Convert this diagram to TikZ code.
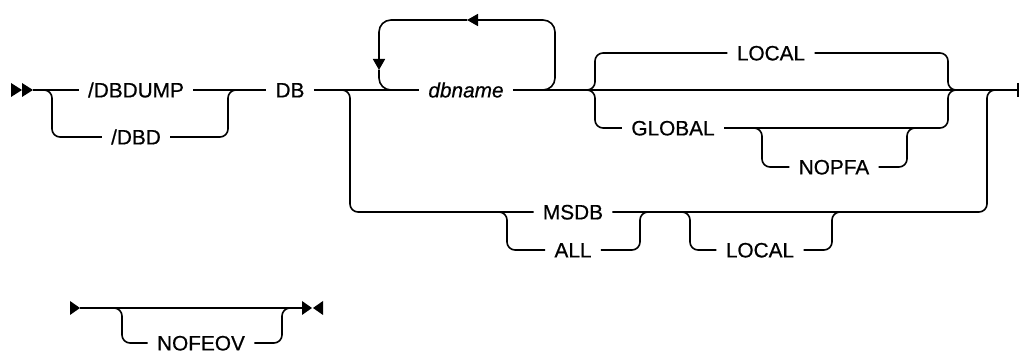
\documentclass[tikz,border=0pt]{standalone}
\usepackage{fontspec}
\setmainfont{Liberation Sans}
\newfontfamily\railfont{Liberation Sans}[FakeBold=0.6]
\usetikzlibrary{arrows.meta}
\tikzset{
  >={Triangle[length=5.5pt,width=6pt]},
  rail/.style={draw=black, line width=0.8pt, rounded corners=4pt},
  loopback/.style={rail, rounded corners=6pt},
  kw/.style={font=\railfont\fontsize{10.4}{12}\selectfont, inner xsep=4.5pt, inner ysep=0pt,
             text height=7.4pt, text depth=0pt},
  var/.style={kw, font=\railfont\fontsize{10.4}{12}\selectfont\itshape},
  tip/.style={fill=black},
}

\begin{document}
\begin{tikzpicture}[x=0.5pt,y=-0.5pt]
\useasboundingbox (0,0) rectangle (1019,352);

% Keywords ---------------------------------------------------------------------
\node[kw] (dbdump) at (136,90) {/DBDUMP};
\node[kw] (dbd) at (136,137) {/DBD};
\node[kw] (db) at (290,90) {DB};
\node[var] (dbname) at (466,90) {dbname};
\node[kw] (local) at (771,53) {LOCAL};
\node[kw] (global) at (673,128) {GLOBAL};
\node[kw] (nopfa) at (834,167) {NOPFA};
\node[kw] (msdb) at (573,212) {MSDB};
\node[kw] (all) at (573,250) {ALL};
\node[kw] (msdblocal) at (760,250) {LOCAL};
\node[kw] (nofeov) at (201,343) {NOFEOV};

% Switch points on the rails -------------------------------------------------------
\coordinate (start) at (33,90);
\coordinate (end) at (1019,90);
\coordinate (s1) at (52,90);
\coordinate (s2) at (228,90);
\coordinate (s3) at (350,90);
\coordinate (l1) at (379,90);
\coordinate (l2) at (555,90);
\coordinate (ltop) at (467,20);
\coordinate (ltip) at (379,70);
\coordinate (s9) at (595,90);
\coordinate (s10) at (948,90);
\coordinate (s11) at (762,128);
\coordinate (s12) at (907,128);
\coordinate (s4) at (507,212);
\coordinate (s5) at (640,212);
\coordinate (s6) at (690,212);
\coordinate (s7) at (832,212);
\coordinate (s8) at (987,90);

% Main line --------------------------------------------------------------------
\fill[tip] (11,83) -- (22,90) -- (11,97) -- cycle;
\fill[tip] (22,83) -- (33,90) -- (22,97) -- cycle;
\draw[rail] (start) -- (dbdump.west);
\draw[rail] ([xshift=-4pt]s1) -| (s1 |- dbd) -- (dbd.west);
\draw[rail] (dbdump.east) -- (db.west);
\draw[rail] (dbd.east) -| (s2) -- ([xshift=4pt]s2);
\draw[rail] (db.east) -- (dbname.west);
\draw[rail, -{Bar[width=7pt,line width=1pt]}] (dbname.east) -- (end);

% Repeat loop over dbname
\draw[loopback, ->] ([xshift=-6pt]l2) -| (l2 |- ltop) -- (ltop);
\draw[loopback, ->] (ltop) -| (ltip);
\draw[loopback] (ltip) |- ([xshift=6pt]l1);

% LOCAL / GLOBAL [NOPFA]
\draw[rail] ([xshift=-4pt]s9) -| (s9 |- local) -- (local.west);
\draw[rail] ([xshift=-4pt]s9) -| (s9 |- global) -- (global.west);
\draw[rail] (local.east) -| (s10) -- ([xshift=4pt]s10);
\draw[rail] (global.east) -| (s10) -- ([xshift=4pt]s10);
\draw[rail] ([xshift=-4pt]s11) -| (s11 |- nopfa) -- (nopfa.west);
\draw[rail] (nopfa.east) -| (s12) -- ([xshift=4pt]s12);

% MSDB / ALL [LOCAL]
\draw[rail] ([xshift=-4pt]s3) -| (s3 |- msdb) -- (msdb.west);
\draw[rail] ([xshift=-4pt]s4) -| (s4 |- all) -- (all.west);
\draw[rail] (all.east) -| (s5) -- ([xshift=4pt]s5);
\draw[rail] ([xshift=-4pt]s6) -| (s6 |- msdblocal) -- (msdblocal.west);
\draw[rail] (msdblocal.east) -| (s7) -- ([xshift=4pt]s7);
\draw[rail] (msdb.east) -| (s8) -- ([xshift=4pt]s8);

% Second line ------------------------------------------------------------------
\coordinate (start2) at (80,308);
\coordinate (end2) at (302,308);
\coordinate (end2b) at (323,308);
\coordinate (s13) at (122,308);
\coordinate (s14) at (282,308);
\fill[tip] (70,301) -- (start2) -- (70,315) -- cycle;
\draw[rail] (start2) -- (end2);
\draw[rail] ([xshift=-4pt]s13) -| (s13 |- nofeov) -- (nofeov.west);
\draw[rail] (nofeov.east) -| (s14) -- ([xshift=4pt]s14);
\fill[tip] (end2) ++(0,-7) -- ++(10,7) -- ++(-10,7) -- cycle;
\fill[tip] (end2b) ++(0,-7) -- ++(-10,7) -- ++(10,7) -- cycle;

\end{tikzpicture}
\end{document}
